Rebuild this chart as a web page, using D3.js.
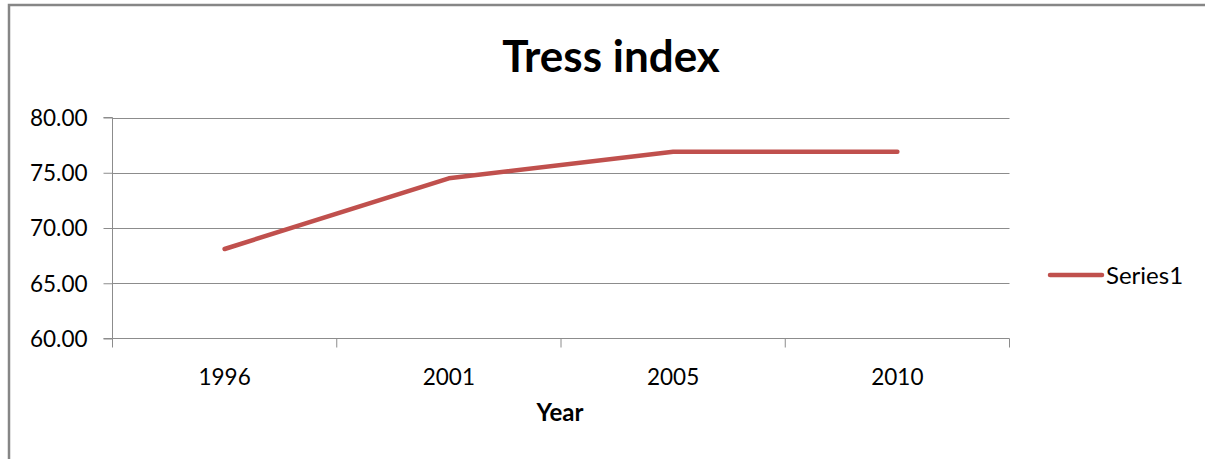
<!DOCTYPE html>
<html>
<head>
<meta charset="utf-8">
<script src="https://cdn.jsdelivr.net/npm/d3@7"></script>
<style>
  html, body { margin: 0; padding: 0; background: #fff; }
  svg text { font-family: "Lato", "Open Sans", sans-serif; fill: #000; }
</style>
</head>
<body>
<svg id="chart" width="1205" height="459"></svg>
<script>
// Tress index by survey year
const years = ["1996", "2001", "2005", "2010"];
const tressIndex = [68.1, 74.5, 76.9, 76.9];
const yTicks = [60, 65, 70, 75, 80];
const seriesName = "Series1";

const svg = d3.select("#chart");
const W = 1205, H = 459;

// outer chart frame
svg.append("rect")
  .attr("x", 9).attr("y", 5)
  .attr("width", W + 20).attr("height", H + 20)
  .attr("fill", "#fff").attr("stroke", "#868686").attr("stroke-width", 2.5);

const plot = { left: 112.5, right: 1009.5, top: 117.5, bottom: 338.5 };

const x = d3.scaleBand().domain(years).range([plot.left, plot.right]).paddingInner(0).paddingOuter(0);
const y = d3.scaleLinear().domain([60, 80]).range([plot.bottom, plot.top]);

// horizontal gridlines
svg.append("g")
  .selectAll("line")
  .data(yTicks.filter(d => d !== 60))
  .join("line")
  .attr("x1", plot.left).attr("x2", plot.right)
  .attr("y1", d => Math.round(y(d)) + 0.5).attr("y2", d => Math.round(y(d)) + 0.5)
  .attr("stroke", "#8c8c8c").attr("stroke-width", 1);

// y axis
const yAxis = svg.append("g")
  .attr("transform", `translate(${plot.left},0)`)
  .call(d3.axisLeft(y).tickValues(yTicks).tickFormat(d3.format(".2f")).tickSize(9).tickPadding(16));
yAxis.selectAll("line, path").attr("stroke", "#8c8c8c");
yAxis.select(".domain").attr("d", `M-9,${plot.top}H0V${plot.bottom}H-9`);
yAxis.selectAll("text").style("font-size", "22.5px").attr("fill", "#000").attr("dy", "0.35em");

// x axis with ticks at category boundaries
const xAxisG = svg.append("g").attr("transform", `translate(0,${plot.bottom})`);
xAxisG.append("line")
  .attr("x1", plot.left).attr("x2", plot.right).attr("y1", 0).attr("y2", 0)
  .attr("stroke", "#8c8c8c");
const boundaries = years.map(d => x(d)).concat([x(years[years.length - 1]) + x.bandwidth()]);
xAxisG.selectAll("line.tick")
  .data(boundaries)
  .join("line")
  .attr("class", "tick")
  .attr("x1", d => d).attr("x2", d => d).attr("y1", 0).attr("y2", 9)
  .attr("stroke", "#8c8c8c");
xAxisG.selectAll("text")
  .data(years)
  .join("text")
  .attr("x", d => x(d) + x.bandwidth() / 2)
  .attr("y", 46)
  .attr("text-anchor", "middle")
  .style("font-size", "22.5px")
  .text(d => d);

// axis title
svg.append("text")
  .attr("x", 560).attr("y", 421)
  .attr("text-anchor", "middle")
  .style("font-size", "24px").style("font-weight", "bold")
  .text("Year");

// chart title
svg.append("text")
  .attr("x", 611).attr("y", 72)
  .attr("text-anchor", "middle")
  .style("font-size", "44px").style("font-weight", "bold")
  .text("Tress index");

// data line
const line = d3.line()
  .x((d, i) => x(years[i]) + x.bandwidth() / 2)
  .y(d => y(d));
svg.append("path")
  .datum(tressIndex)
  .attr("d", line)
  .attr("fill", "none")
  .attr("stroke", "#C0504D")
  .attr("stroke-width", 4.5)
  .attr("stroke-linejoin", "round")
  .attr("stroke-linecap", "round");

// legend
const legend = svg.append("g");
legend.append("line")
  .attr("x1", 1050).attr("x2", 1102).attr("y1", 275).attr("y2", 275)
  .attr("stroke", "#C0504D").attr("stroke-width", 4.5).attr("stroke-linecap", "round");
legend.append("text")
  .attr("x", 1106).attr("y", 284)
  .style("font-size", "24px")
  .text(seriesName);
</script>
</body>
</html>
